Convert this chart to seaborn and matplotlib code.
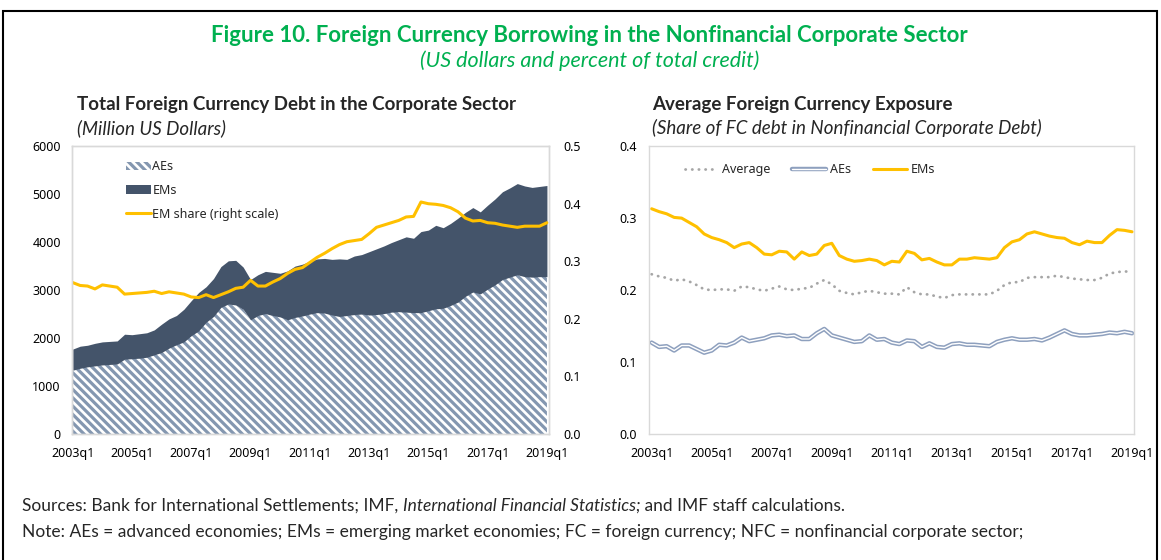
import numpy as np
import pandas as pd
import matplotlib
matplotlib.use('Agg')
import matplotlib.pyplot as plt
import matplotlib.patheffects as pe
from matplotlib.patches import Patch, Rectangle
from matplotlib.lines import Line2D
from matplotlib.ticker import FormatStrFormatter
import seaborn as sns

# ---------- data ----------
quarters = [f'{y}q{q}' for y in range(2003, 2020) for q in range(1, 5)][:65]
tick_labels = [f'{y}q1' for y in range(2003, 2020, 2)]

# left panel: million US dollars, stacked
aes_debt = [1330, 1370, 1400, 1420, 1440, 1450, 1460, 1560, 1570, 1580,
            1600, 1650, 1700, 1790, 1860, 1920, 2050, 2150, 2330, 2450,
            2640, 2710, 2690, 2600, 2380, 2470, 2510, 2470, 2440, 2380,
            2430, 2460, 2500, 2530, 2520, 2480, 2450, 2470, 2490, 2500,
            2480, 2490, 2510, 2540, 2550, 2540, 2530, 2530, 2570, 2610,
            2620, 2680, 2750, 2870, 2960, 2920, 3020, 3110, 3220, 3270,
            3320, 3280, 3270, 3280, 3280]
ems_debt = [440, 460, 450, 470, 480, 480, 480, 520, 500, 510,
            510, 520, 590, 610, 610, 680, 730, 800, 740, 790,
            850, 900, 930, 880, 840, 850, 880, 900, 910, 1020,
            1070, 1080, 1100, 1120, 1140, 1160, 1200, 1170, 1220, 1240,
            1320, 1370, 1410, 1450, 1500, 1570, 1550, 1690, 1680, 1740,
            1680, 1710, 1750, 1750, 1760, 1710, 1750, 1790, 1830, 1860,
            1900, 1890, 1870, 1880, 1900]
em_share = [0.263, 0.258, 0.257, 0.252, 0.259, 0.257, 0.255, 0.243, 0.244, 0.245,
            0.246, 0.248, 0.244, 0.247, 0.245, 0.243, 0.238, 0.237, 0.242, 0.237,
            0.242, 0.247, 0.253, 0.255, 0.267, 0.257, 0.257, 0.264, 0.270, 0.279,
            0.286, 0.289, 0.298, 0.307, 0.314, 0.322, 0.329, 0.334, 0.336, 0.338,
            0.348, 0.359, 0.363, 0.367, 0.371, 0.377, 0.378, 0.403, 0.400, 0.399,
            0.397, 0.393, 0.386, 0.375, 0.370, 0.371, 0.367, 0.366, 0.363, 0.361,
            0.359, 0.361, 0.361, 0.361, 0.367]

# right panel: share of FC debt
avg_exp = [0.222, 0.219, 0.217, 0.213, 0.215, 0.212, 0.207, 0.201, 0.200, 0.201,
           0.201, 0.199, 0.205, 0.204, 0.201, 0.199, 0.202, 0.205, 0.201, 0.200,
           0.202, 0.203, 0.209, 0.214, 0.208, 0.199, 0.196, 0.194, 0.197, 0.199,
           0.197, 0.195, 0.195, 0.194, 0.204, 0.197, 0.194, 0.194, 0.191, 0.189,
           0.193, 0.194, 0.194, 0.194, 0.194, 0.194, 0.199, 0.207, 0.211, 0.211,
           0.217, 0.218, 0.218, 0.218, 0.220, 0.218, 0.216, 0.215, 0.214, 0.214,
           0.217, 0.223, 0.225, 0.226, 0.225]
aes_exp = [0.127, 0.121, 0.122, 0.116, 0.123, 0.123, 0.118, 0.113, 0.116, 0.124,
           0.123, 0.127, 0.134, 0.129, 0.131, 0.133, 0.137, 0.138, 0.136, 0.137,
           0.132, 0.132, 0.140, 0.146, 0.137, 0.134, 0.131, 0.128, 0.129, 0.137,
           0.131, 0.132, 0.127, 0.125, 0.130, 0.129, 0.121, 0.126, 0.121, 0.120,
           0.125, 0.126, 0.124, 0.124, 0.123, 0.122, 0.128, 0.131, 0.133, 0.131,
           0.131, 0.132, 0.130, 0.134, 0.139, 0.144, 0.139, 0.137, 0.137, 0.138,
           0.139, 0.141, 0.140, 0.142, 0.140]
ems_exp = [0.313, 0.309, 0.306, 0.301, 0.300, 0.294, 0.288, 0.278, 0.273, 0.270,
           0.266, 0.259, 0.264, 0.266, 0.259, 0.250, 0.249, 0.254, 0.253, 0.243,
           0.253, 0.248, 0.250, 0.262, 0.265, 0.248, 0.243, 0.240, 0.241, 0.243,
           0.241, 0.235, 0.240, 0.239, 0.254, 0.251, 0.242, 0.244, 0.239, 0.235,
           0.235, 0.243, 0.243, 0.245, 0.244, 0.243, 0.245, 0.259, 0.267, 0.270,
           0.278, 0.281, 0.278, 0.275, 0.273, 0.272, 0.266, 0.263, 0.268, 0.266,
           0.266, 0.276, 0.284, 0.283, 0.281]

# ---------- style ----------
sns.set_style('white')
plt.rcParams['font.family'] = ['Noto Sans', 'DejaVu Sans']
plt.rcParams['hatch.linewidth'] = 2.3
plt.rcParams['hatch.color'] = '#8497B0'

GREEN = '#00B050'
DARK = '#44546A'
HATCH = '#8497B0'
GOLD = '#FFC000'
GREY = '#A6A6A6'
SPINE = '#D9D9D9'
HT = '\\' * 4
head = ['Lato', 'DejaVu Sans']

df = pd.DataFrame({'q': np.arange(len(quarters)), 'quarter': quarters,
                   'aes_debt': aes_debt, 'ems_debt': ems_debt, 'em_share': em_share,
                   'avg': avg_exp, 'aes': aes_exp, 'ems': ems_exp})
df['total'] = df['aes_debt'] + df['ems_debt']
tick_pos = [quarters.index(t) for t in tick_labels]

fig = plt.figure(figsize=(11.61, 5.6), dpi=100)


def frame(ax):
    for s in ax.spines.values():
        s.set_color(SPINE)
        s.set_linewidth(1)
    ax.tick_params(length=0, labelsize=9, colors='black')


# ---------- left panel ----------
ax1 = fig.add_axes([0.062, 0.225, 0.411, 0.514])
ax1.fill_between(df['q'], 0, df['aes_debt'], facecolor='white', edgecolor=HATCH,
                 hatch=HT, linewidth=0)
ax1.fill_between(df['q'], df['aes_debt'], df['total'], color=DARK, linewidth=0)
ax1.set_ylim(0, 6000)
ax1.set_yticks(range(0, 6001, 1000))
ax1.set_xlim(-0.1, 64.3)
ax1.set_xticks(tick_pos)
ax1.set_xticklabels(tick_labels)
frame(ax1)
ax1.tick_params(axis='y', pad=8)
ax1.tick_params(axis='x', pad=9)

ax1b = ax1.twinx()
sns.lineplot(data=df, x='q', y='em_share', ax=ax1b, color=GOLD, linewidth=2.2)
ax1b.set_ylim(0, 0.5)
ax1b.set_yticks(np.arange(0, 0.51, 0.1))
ax1b.yaxis.set_major_formatter(FormatStrFormatter('%.1f'))
ax1b.set_xlim(-0.1, 64.3)
ax1b.set_xlabel('')
ax1b.set_ylabel('')
ax1.set_xlabel('')
frame(ax1b)
ax1b.tick_params(axis='y', pad=10)

h_left = [Patch(facecolor='white', edgecolor=HATCH, hatch=HT, linewidth=0),
          Patch(facecolor=DARK, linewidth=0),
          Line2D([], [], color=GOLD, linewidth=2.2)]
ax1b.legend(h_left, ['AEs', 'EMs', 'EM share (right scale)'], loc='upper left',
            bbox_to_anchor=(0.09, 0.99), frameon=False, fontsize=9,
            handlelength=2.0, handleheight=0.7, handletextpad=0.1, labelspacing=0.85)

# ---------- right panel ----------
ax2 = fig.add_axes([0.559, 0.225, 0.418, 0.514])
sns.lineplot(data=df, x='q', y='avg', ax=ax2, color=GREY, linewidth=2.0,
             linestyle=(0, (0.1, 2.3)), dash_capstyle='round', label='Average')
sns.lineplot(data=df, x='q', y='aes', ax=ax2, color='white', linewidth=1.0,
             label='AEs',
             path_effects=[pe.Stroke(linewidth=3.2, foreground='#8EA0BE'), pe.Normal()])
sns.lineplot(data=df, x='q', y='ems', ax=ax2, color=GOLD, linewidth=2.2, label='EMs')
ax2.set_ylim(0, 0.4)
ax2.set_yticks(np.arange(0, 0.41, 0.1))
ax2.yaxis.set_major_formatter(FormatStrFormatter('%.1f'))
ax2.set_xlim(-0.35, 64.3)
ax2.set_xticks(tick_pos)
ax2.set_xticklabels(tick_labels)
ax2.set_xlabel('')
ax2.set_ylabel('')
frame(ax2)
ax2.tick_params(axis='y', pad=9)
ax2.tick_params(axis='x', pad=9)
ax2.legend(loc='upper left', bbox_to_anchor=(0.05, 0.98), ncol=3, frameon=False,
           fontsize=9, handlelength=2.7, handletextpad=0.3, columnspacing=1.75)

# ---------- texts ----------
fig.text(0.508, 0.9375, 'Figure 10. Foreign Currency Borrowing in the Nonfinancial Corporate Sector',
         ha='center', va='center', color=GREEN, fontsize=16, fontweight='bold', family=head)
fig.text(0.508, 0.891, '(US dollars and percent of total credit)', ha='center', va='center',
         color=GREEN, fontsize=15.5, style='italic', family=head)
fig.text(0.0663, 0.814, 'Total Foreign Currency Debt in the Corporate Sector', ha='left',
         va='center', fontsize=13.5, fontweight='bold', family=head)
fig.text(0.0663, 0.771, '(Million US Dollars)', ha='left', va='center', fontsize=13.5,
         style='italic', family=head)
fig.text(0.5616, 0.814, 'Average Foreign Currency Exposure', ha='left', va='center',
         fontsize=13.5, fontweight='bold', family=head)
fig.text(0.5616, 0.771, '(Share of FC debt in Nonfinancial Corporate Debt)', ha='left',
         va='center', fontsize=13.5, style='italic', family=head)

bg = fig.add_axes([0, 0, 1, 1], zorder=-1)
bg.axis('off')
t1 = bg.text(0.019, 0.0964, 'Sources: Bank for International Settlements; IMF, ', ha='left',
             va='center', fontsize=12.5, family=head)
t2 = bg.annotate('International Financial Statistics;', xy=(1, 0), xycoords=t1,
                 ha='left', va='bottom', fontsize=12.5, style='italic', family=head)
bg.annotate(' and IMF staff calculations.', xy=(1, 0), xycoords=t2, ha='left',
            va='bottom', fontsize=12.5, family=head)
bg.text(0.019, 0.05, 'Note: AEs = advanced economies; EMs = emerging market economies; '
        'FC = foreign currency; NFC = nonfinancial corporate sector;', ha='left',
        va='center', fontsize=12.5, family=head)

fig.add_artist(Rectangle((3 / 1161, -0.1), 1154 / 1161, 1.08, transform=fig.transFigure,
                         fill=False, edgecolor='black', linewidth=1.5))

fig.savefig('out.png', dpi=100)
